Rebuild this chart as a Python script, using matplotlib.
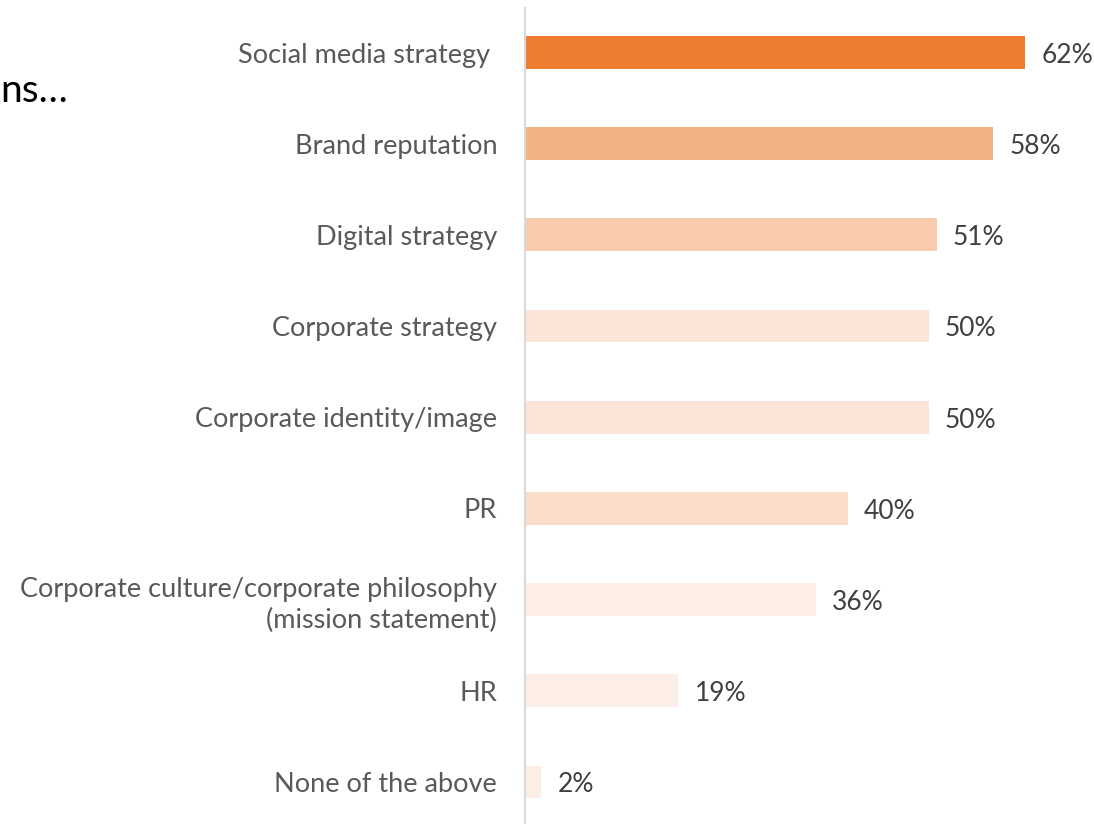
import matplotlib
matplotlib.use("Agg")
import matplotlib.pyplot as plt

categories = [
    "Social media strategy ",
    "Brand reputation",
    "Digital strategy",
    "Corporate strategy",
    "Corporate identity/image",
    "PR",
    "Corporate culture/corporate philosophy\n(mission statement)",
    "HR",
    "None of the above",
]
shares = [0.62, 0.58, 0.51, 0.50, 0.50, 0.40, 0.36, 0.19, 0.02]
bar_colors = ["#ED7D31", "#F4B183", "#F8CBAD", "#FAE5D8", "#FAE5D8",
              "#FBDECA", "#FDEEE5", "#FDEEE5", "#FDEEE5"]

plt.rcParams['font.family'] = ['Lato', 'DejaVu Sans']

W, H = 1094, 824
fig = plt.figure(figsize=(W / 100, H / 100), dpi=100)
ax = fig.add_axes([525 / W, 0, 565 / W, 816 / H])

pos = list(range(len(categories)))
ax.barh(pos, shares, height=0.36, color=bar_colors)
ax.set_xlim(0, 0.70)
ax.set_ylim(8.46, -0.488)

for y, v in zip(pos, shares):
    ax.text(v + 0.02, y + 0.03, "{:.0%}".format(v), va="center", ha="left",
            fontsize=19, color="#404040")

ax.set_yticks(pos)
ax.set_yticklabels(categories, fontsize=19.5, color="#595959",
                   multialignment="right", linespacing=1.3)
ax.tick_params(axis="y", length=0, pad=20)
ax.set_xticks([])
for s in ["top", "right", "bottom"]:
    ax.spines[s].set_visible(False)
ax.spines["left"].set_color("#D9D9D9")
ax.spines["left"].set_linewidth(1.5)

# tail of the slide title at the left edge
fig.text(0.0, 1 - 91 / H, "ns…", fontsize=28, color="#000000",
         ha="left", va="center")

fig.savefig("out.png", dpi=100)
